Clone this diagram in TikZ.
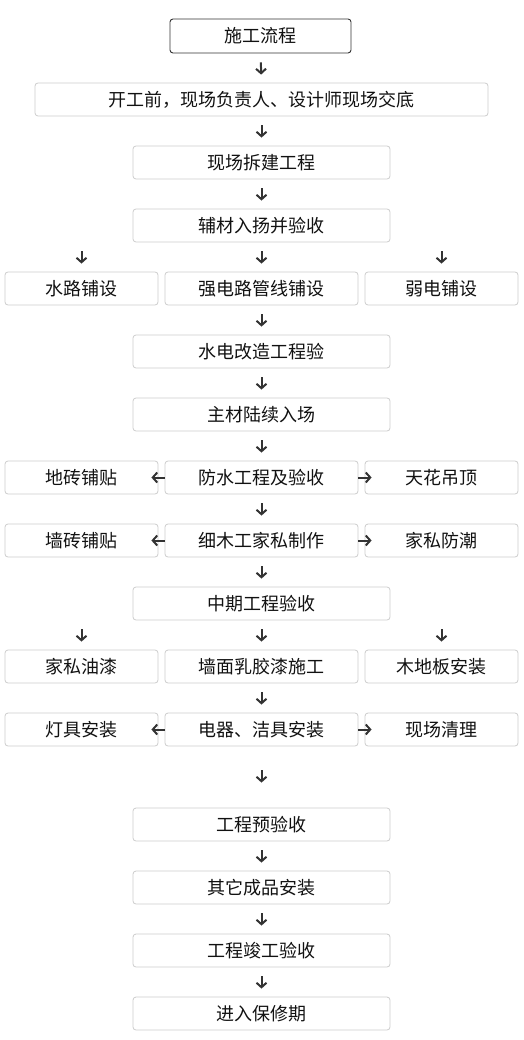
\documentclass[tikz,border=0pt]{standalone}
\usepackage{fontspec}
\setmainfont{Noto Sans CJK SC}
\usetikzlibrary{arrows.meta}
\definecolor{boxgray}{HTML}{CCCCCC}
\definecolor{inkgray}{HTML}{333333}
\definecolor{txtblack}{HTML}{111111}

\begin{document}
\begin{tikzpicture}[
    x=1pt, y=-1pt,
    font=\fontsize{18}{21}\selectfont,
    >={Straight Barb[length=4.5pt,width=10pt]},
    titlebox/.style = {draw=inkgray, rounded corners=3pt, line width=0.9pt,
                       minimum width=181pt, minimum height=34pt,
                       text=txtblack, inner sep=0pt},
    stepbox/.style  = {draw=boxgray, rounded corners=3pt, line width=0.8pt,
                       minimum height=33pt, text=txtblack, inner sep=0pt},
    widebox/.style  = {stepbox, minimum width=453pt},
    mainbox/.style  = {stepbox, minimum width=257pt},
    midbox/.style   = {stepbox, minimum width=193pt},
    sidebox/.style  = {stepbox, minimum width=153pt},
    flow/.style     = {draw=inkgray, line width=2pt, ->,
                       shorten <=9pt, shorten >=8pt},
    side/.style     = {draw=inkgray, line width=2pt, ->, shorten >=-7pt},
  ]
  \useasboundingbox (0,0) rectangle (523,1040);

  % --- Start -----------------------------------------------------------
  \node[titlebox] (title) at (260.5,36)   {施工流程};
  \node[widebox]  (jd)    at (261.5,99.5) {开工前，现场负责人、设计师现场交底};
  \node[mainbox]  (cj)    at (261.5,162.5) {现场拆建工程};
  \node[mainbox]  (fc)    at (261.5,225.5) {辅材入扬并验收};

  \draw[flow] (title) -- (jd);
  \draw[flow] (jd) -- (cj);
  \draw[flow] (cj) -- (fc);

  % --- Water / electric ------------------------------------------------
  \node[sidebox] (sl) at (81.5,288.5)  {水路铺设};
  \node[midbox]  (qd) at (261.5,288.5) {强电路管线铺设};
  \node[sidebox] (rd) at (441.5,288.5) {弱电铺设};
  \coordinate (sltop) at (sl.north |- fc.south);
  \coordinate (rdtop) at (rd.north |- fc.south);

  \draw[flow] (fc) -- (qd);
  \draw[flow] (sltop) -- (sl);
  \draw[flow] (rdtop) -- (rd);

  \node[mainbox] (sd) at (261.5,351.5) {水电改造工程验};
  \node[mainbox] (zc) at (261.5,414.5) {主材陆续入场};

  \draw[flow] (qd) -- (sd);
  \draw[flow] (sd) -- (zc);

  % --- Tiling / ceiling / carpentry -----------------------------------
  \node[sidebox] (dz) at (81.5,477.5)  {地砖铺贴};
  \node[midbox]  (fs) at (261.5,477.5) {防水工程及验收};
  \node[sidebox] (th) at (441.5,477.5) {天花吊顶};
  \node[sidebox] (qz) at (81.5,540.5)  {墙砖铺贴};
  \node[midbox]  (xm) at (261.5,540.5) {细木工家私制作};
  \node[sidebox] (fc2) at (441.5,540.5) {家私防潮};

  \draw[flow] (zc) -- (fs);
  \draw[side] (fs.west) -- (dz.east);
  \draw[side] (fs.east) -- (th.west);
  \draw[flow] (fs) -- (xm);
  \draw[side] (xm.west) -- (qz.east);
  \draw[side] (xm.east) -- (fc2.west);

  \node[mainbox] (zq) at (261.5,603.5) {中期工程验收};
  \draw[flow] (xm) -- (zq);

  % --- Finishing -------------------------------------------------------
  \node[sidebox] (yq) at (81.5,666.5)  {家私油漆};
  \node[midbox]  (rj) at (261.5,666.5) {墙面乳胶漆施工};
  \node[sidebox] (db) at (441.5,666.5) {木地板安装};
  \coordinate (yqtop) at (yq.north |- zq.south);
  \coordinate (dbtop) at (db.north |- zq.south);

  \draw[flow] (zq) -- (rj);
  \draw[flow] (yqtop) -- (yq);
  \draw[flow] (dbtop) -- (db);

  \node[sidebox] (dj) at (81.5,729.5)  {灯具安装};
  \node[midbox]  (dq) at (261.5,729.5) {电器、洁具安装};
  \node[sidebox] (ql) at (441.5,729.5) {现场清理};

  \draw[flow] (rj) -- (dq);
  \draw[side] (dq.west) -- (dj.east);
  \draw[side] (dq.east) -- (ql.west);

  % --- Acceptance ------------------------------------------------------
  \node[mainbox] (yy) at (261.5,824.5)  {工程预验收};
  \node[mainbox] (qt) at (261.5,887.5)  {其它成品安装};
  \node[mainbox] (jg) at (261.5,950.5)  {工程竣工验收};
  \node[mainbox] (bx) at (261.5,1013.5) {进入保修期};

  \draw[flow, shorten <=24pt, shorten >=25pt] (dq) -- (yy);
  \draw[flow] (yy) -- (qt);
  \draw[flow] (qt) -- (jg);
  \draw[flow] (jg) -- (bx);

\end{tikzpicture}
\end{document}
